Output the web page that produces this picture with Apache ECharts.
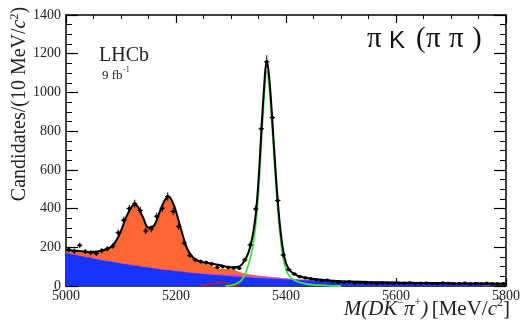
<!DOCTYPE html>
<html><head><meta charset="utf-8">
<script src="https://cdn.jsdelivr.net/npm/echarts@6/dist/echarts.min.js"></script>
<style>html,body{margin:0;padding:0;background:#fff}#c{width:523px;height:324px}</style>
</head><body><div id="c"></div>
<script>
// ---- data: bin centres (10 MeV bins) and candidate counts ----
const binCenters = [5005,5015,5025,5035,5045,5055,5065,5075,5085,5095,5105,5115,5125,5135,5145,5155,5165,5175,5185,5195,
  5205,5215,5225,5235,5245,5255,5265,5275,5285,5295,5305,5315,5325,5335,5345,5355,5365,5375,5385,5395,
  5405,5415,5425,5435,5445,5455,5465,5475,5485,5495,5505,5515,5525,5535,5545,5555,5565,5575,5585,5595,
  5605,5615,5625,5635,5645,5655,5665,5675,5685,5695,5705,5715,5725,5735,5745,5755,5765,5775,5785,5795];
const counts = [188,180,210,178,172,168,182,192,206,275,340,400,425,390,285,295,360,402,462,385,
  307,222,158,135,126,121,114,97,100,95,93,92,135,212,398,812,1158,870,442,160,
  85,62,48,42,38,32,28,30,22,20,18,22,15,18,14,16,12,15,14,14,
  15,14,16,12,14,15,13,12,16,14,12,13,15,11,13,12,14,12,11,12];

// ---- fit components (background grid) ----
const bkgX = [5000,5020,5040,5060,5080,5090,5100,5110,5120,5125,5130,5140,5150,5160,5170,5180,5187,5195,5200,5210,
  5220,5230,5240,5260,5280,5300,5320,5340,5360,5380,5400,5450,5500,5550,5600,5650,5700,5750,5800];
const combBkg = [170,158,147,136,126,121,116,112,107,105,103,99,95,91,87,83,81,78,76,73,
  70,67,64,59,55,51,47,43,40,37,34,28,23,19,16,14,12,11,10];
const misIdBkg = [4,4,4,4,4,4,4,4,4,4,4,4,4,4,4,4,4,4,4,4,
  4,4,4,5,6,8,10,10,9,7,5,2,0,0,0,0,0,0,0];
const partRecoBkg = [12,20,25,40,68,103,165,244,301,311,305,252,203,217,289,358,375,343,305,208,
  121,77,60,46,28,28,12,5,2,1,0,0,0,0,0,0,0,0,0];

// ---- total fit ----
const totX = [5000,5020,5040,5060,5080,5090,5100,5110,5120,5125,5130,5140,5150,5160,5170,5180,5187,5195,5200,5210,
  5220,5230,5240,5260,5280,5300,5310,5320,5330,5335,5340,5345,5350,5355,5360,5365,5370,5375,5380,5385,
  5390,5395,5400,5405,5410,5420,5430,5440,5460,5480,5500,5550,5600,5650,5700,5750,5800];
const totFit = [186,182,176,180,198,228,285,360,412,420,412,355,302,312,380,445,460,425,385,285,
  195,150,130,117,108,97,98,112,160,205,270,370,545,790,1020,1165,1060,860,640,440,
  285,180,118,88,72,55,46,40,33,29,25,21,18,16,14,13,12];

// ---- signal ----
const sigX = [5290,5300,5310,5320,5330,5335,5340,5345,5350,5355,5360,5365,5370,5375,5380,5385,5390,5395,5400,5405,
  5410,5420,5430,5440,5460,5480,5500];
const signal = [0,3,12,32,95,145,210,320,490,735,965,1112,1010,815,598,402,248,143,86,56,
  40,24,15,9,4,1,0];

// ---- small peaking background ----
const redX = [5245,5255,5265,5275,5285,5295,5305,5315];
const redY = [0,3,12,21,18,8,2,0];

const xTicks = [5000,5200,5400,5600,5800];
const yTicks = [0,200,400,600,800,1000,1200,1400];

const zip = (a,b) => a.map((v,i)=>[v,b[i]]);
// cumulative stacks of the background components (drawn back-to-front)
const cumPink = combBkg.map((v,i)=>v+misIdBkg[i]);
const cumOrange = cumPink.map((v,i)=>v+partRecoBkg[i]);
const SERIF = 'Liberation Serif';

const chart = echarts.init(document.getElementById('c'), null, {renderer:'canvas'});

function mkX(pos, show){
  return {type:'value', min:xTicks[0], max:xTicks[xTicks.length-1], interval:200, position:pos,
    axisLine:{show:true,onZero:false,lineStyle:{color:'#000',width:1.5}},
    axisTick:{show:true,inside:true,length:8,lineStyle:{color:'#000',width:1.2}},
    minorTick:{show:true,splitNumber:4,length:4,lineStyle:{color:'#000',width:1}},
    splitLine:{show:false},
    axisLabel:{show:show,color:'#222',fontFamily:SERIF,fontSize:14,margin:3,formatter:v=>String(v)}};
}
function mkY(pos, show){
  return {type:'value', min:yTicks[0], max:yTicks[yTicks.length-1], interval:200, position:pos,
    axisLine:{show:true,onZero:false,lineStyle:{color:'#000',width:1.5}},
    axisTick:{show:true,inside:true,length:12,lineStyle:{color:'#000',width:1.2}},
    minorTick:{show:true,splitNumber:4,length:6,lineStyle:{color:'#000',width:1}},
    splitLine:{show:false},
    axisLabel:{show:show,color:'#222',fontFamily:SERIF,fontSize:14,margin:5,formatter:v=>String(v)}};
}

const tag = (txt, x, fam, size, top) => ({type:'text',left:x,top:top,
  style:{text:txt,font:size+'px "'+fam+'"',fill:'#111'}});

const option = {
  animation:false,
  backgroundColor:'#fff',
  grid:{left:66,right:14,top:15,bottom:38,containLabel:false},
  xAxis:[mkX('bottom',true), mkX('top',false)],
  yAxis:[mkY('left',true), mkY('right',false)],
  series:[
    {type:'line',name:'partreco',data:zip(bkgX,cumOrange),symbol:'none',smooth:0.3,
      lineStyle:{width:0},areaStyle:{color:'#ff6633',opacity:1},z:1},
    {type:'line',name:'misid',data:zip(bkgX,cumPink),symbol:'none',smooth:0.3,
      lineStyle:{width:0},areaStyle:{color:'#c850c8',opacity:1},z:2},
    {type:'line',name:'comb',data:zip(bkgX,combBkg),symbol:'none',smooth:0.3,
      lineStyle:{width:0},areaStyle:{color:'#1733ff',opacity:1},z:3},
    {type:'line',name:'red',data:zip(redX,redY),symbol:'none',smooth:0.4,
      lineStyle:{color:'#d01010',width:1.5},z:4},
    {type:'line',name:'signal',data:zip(sigX,signal),symbol:'none',smooth:0.4,
      lineStyle:{color:'#44dd44',width:1.8},z:5},
    {type:'line',name:'total',data:zip(totX,totFit),symbol:'none',smooth:0.4,
      lineStyle:{color:'#000',width:2},z:6},
    {type:'custom',name:'data',data:zip(binCenters,counts),z:7,
      renderItem:function(params, api){
        const x = api.value(0), y = api.value(1), e = Math.sqrt(y);
        const c = api.coord([x,y]), l = api.coord([x-5,y]), r = api.coord([x+5,y]);
        const t = api.coord([x,y+e]), b = api.coord([x,Math.max(0,y-e)]);
        return {type:'group',children:[
          {type:'line',shape:{x1:l[0],y1:c[1],x2:r[0],y2:c[1]},style:{stroke:'#000',lineWidth:1}},
          {type:'line',shape:{x1:c[0],y1:t[1],x2:c[0],y2:b[1]},style:{stroke:'#000',lineWidth:1}},
          {type:'rect',shape:{x:c[0]-1.5,y:c[1]-1.5,width:3,height:3},style:{fill:'#000'}}
        ]};
      }}
  ],
  graphic:[
    {type:'text',left:99,top:46,style:{text:'LHCb',font:'20px "Liberation Serif"',fill:'#222'}},
    {type:'text',left:102,top:69,style:{text:'9 fb',font:'13px "Liberation Serif"',fill:'#222'}},
    {type:'text',left:123,top:66,style:{text:'-1',font:'8px "Liberation Serif"',fill:'#222'}},
    tag('π',367,SERIF,29,25),
    tag('K',389,'Liberation Sans',24,29),
    tag('(',416,SERIF,29,25),
    tag('π',426,SERIF,29,25),
    tag('π',449,SERIF,29,25),
    tag(')',472,SERIF,29,25),
    {type:'text',x:20,y:104,rotation:Math.PI/2,style:{
      text:'{n|Candidates/(10 MeV/}{i|c}{s|2}{n|)}',
      align:'center',verticalAlign:'middle',
      rich:{n:{fontFamily:SERIF,fontSize:20,fill:'#222',lineHeight:22},
            i:{fontFamily:SERIF,fontStyle:'italic',fontSize:20,fill:'#222',lineHeight:22},
            s:{fontFamily:SERIF,fontSize:12,fill:'#222',lineHeight:22,verticalAlign:'top'}}}},
    {type:'text',right:13,top:297,style:{
      text:'{i|M(DK}{s|−}{i|π}{s|+}{i|)} {n|[MeV/}{i|c}{s|2}{n|]}',
      rich:{n:{fontFamily:SERIF,fontSize:21,fill:'#222',lineHeight:24},
            i:{fontFamily:SERIF,fontStyle:'italic',fontSize:21,fill:'#222',lineHeight:24},
            s:{fontFamily:SERIF,fontSize:12,fill:'#222',lineHeight:24,verticalAlign:'top'}}}}
  ]
};
chart.setOption(option);
</script></body></html>
